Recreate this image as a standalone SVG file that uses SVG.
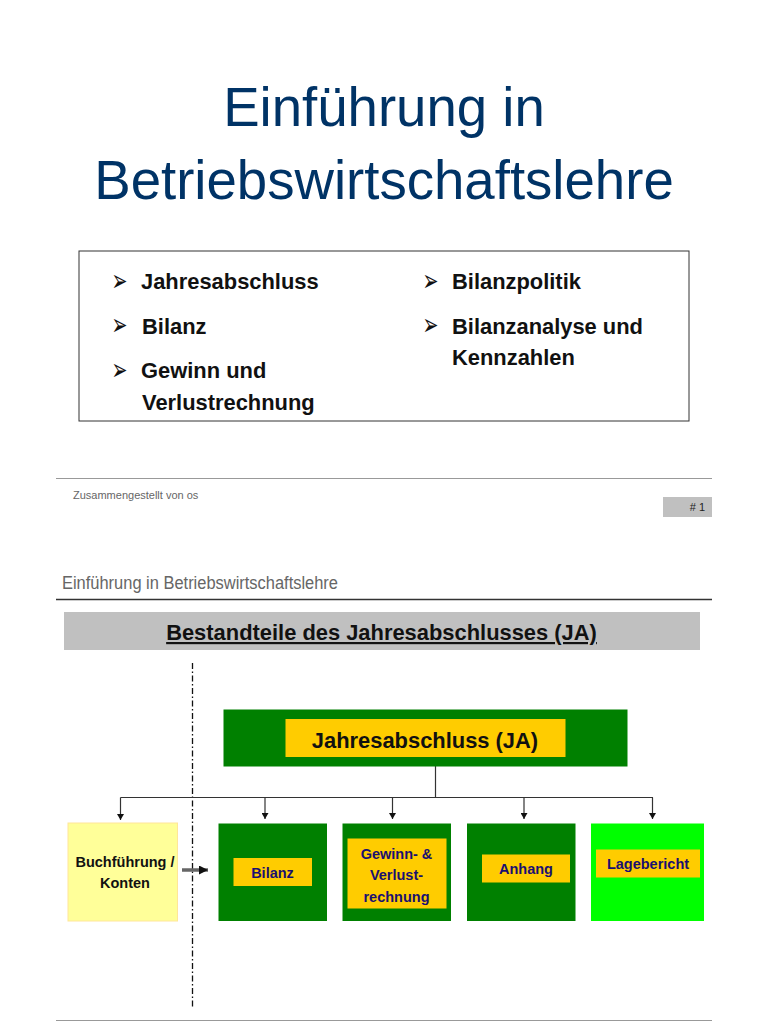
<svg xmlns="http://www.w3.org/2000/svg" width="768" height="1024" viewBox="0 0 768 1024">
<style>
text{font-family:"Liberation Sans",Arial,sans-serif}
.title{font-size:54.600px;fill:#003366;text-anchor:middle}
.li{font-size:21.900px;font-weight:bold;fill:#111}
.b{font-family:"DejaVu Sans",sans-serif;font-size:19px;fill:#111}
.lab{font-size:14.500px;font-weight:bold;fill:#1a1070;text-anchor:middle}
.dk{font-size:14.500px;font-weight:bold;fill:#111;text-anchor:middle}
.g{fill:#008000}
.o{fill:#ffcc00}
.c{fill:none;stroke:#333;stroke-width:1.200}
</style>
<defs>
<marker id="a" markerUnits="userSpaceOnUse" markerWidth="7" markerHeight="7" refX="6" refY="3.500" orient="auto"><path d="M0 0L6 3.500L0 7Z" fill="#111"/></marker>
<marker id="a2" markerUnits="userSpaceOnUse" markerWidth="10" markerHeight="10" refX="9" refY="4.500" orient="auto"><path d="M0 0L9 4.500L0 9Z" fill="#111"/></marker>
</defs>
<rect width="768" height="1024" fill="#fff"/>
<text class="title" x="384" y="126">Einführung in</text>
<text class="title" x="384" y="199">Betriebswirtschaftslehre</text>
<g id="topics">
<rect x="79" y="251" width="610" height="170" fill="#fff" stroke="#333" stroke-width="1"/>
<text class="b" transform="translate(111.500 291) scale(1 1.600)">➢</text><text class="li" x="141" y="288.500">Jahresabschluss</text>
<text class="b" transform="translate(111.500 335) scale(1 1.600)">➢</text><text class="li" x="142" y="333.500">Bilanz</text>
<text class="b" transform="translate(111.500 380) scale(1 1.600)">➢</text><text class="li" x="141" y="377.500">Gewinn und</text>
<text class="li" x="142" y="409.500">Verlustrechnung</text>
<text class="b" transform="translate(422.500 291) scale(1 1.600)">➢</text><text class="li" x="452" y="288.500">Bilanzpolitik</text>
<text class="b" transform="translate(422.500 335) scale(1 1.600)">➢</text><text class="li" x="452" y="333.500">Bilanzanalyse und</text>
<text class="li" x="452" y="365">Kennzahlen</text>
</g>
<path d="M56 478.500H712" stroke="#999" stroke-width="1.200" fill="none"/>
<text x="73" y="499" font-size="11" fill="#666">Zusammengestellt von os</text>
<rect x="663" y="497" width="49" height="20" fill="#c0c0c0"/>
<text x="705" y="511" font-size="11" fill="#222" text-anchor="end"># 1</text>
<text x="62" y="589" font-size="17.500" fill="#666" textLength="276" lengthAdjust="spacingAndGlyphs">Einführung in Betriebswirtschaftslehre</text>
<path d="M56 599.500H712" stroke="#333" stroke-width="1.300" fill="none"/>
<rect x="64" y="612" width="636" height="38" fill="#c0c0c0"/>
<text x="381.500" y="640" font-size="21.900" font-weight="bold" fill="#111" text-anchor="middle" text-decoration="underline">Bestandteile des Jahresabschlusses (JA)</text>
<g id="connectors">
<path d="M192.500 663V1008" fill="none" stroke="#111" stroke-width="1.300" stroke-dasharray="6 2.500 1.500 2.500"/>
<path class="c" d="M435.500 766V797"/>
<path class="c" d="M120.500 797.500H653"/>
<path class="c" d="M120.500 797.500V820" marker-end="url(#a)"/>
<path class="c" d="M265 797.500V819" marker-end="url(#a)"/>
<path class="c" d="M392.500 797.500V819" marker-end="url(#a)"/>
<path class="c" d="M524 797.500V819" marker-end="url(#a)"/>
<path class="c" d="M652.500 797.500V819" marker-end="url(#a)"/>
<path d="M182 870H208" fill="none" stroke="#666" stroke-width="3.500" marker-end="url(#a2)"/>
</g>
<g id="ja"><rect class="g" x="223.500" y="709.500" width="404" height="57"/><rect class="o" x="285.500" y="719" width="280" height="38"/><text x="425" y="747.500" font-size="21.900" font-weight="bold" fill="#111" text-anchor="middle">Jahresabschluss (JA)</text></g>
<g id="buchfuehrung"><rect x="68" y="823" width="109.500" height="98" fill="#ffff99" stroke="#ffe699" stroke-width="1"/><text class="dk" x="125" y="867">Buchführung /</text><text class="dk" x="125" y="888">Konten</text></g>
<g id="bilanz"><rect class="g" x="218.500" y="823.500" width="108.500" height="97.500"/><rect class="o" x="233.500" y="858" width="78.500" height="28"/><text class="lab" x="272.500" y="878">Bilanz</text></g>
<g id="guv"><rect class="g" x="342.500" y="823.500" width="108.500" height="97.500"/><rect class="o" x="347.500" y="838.500" width="99" height="70"/><text class="lab" x="396.500" y="858.500">Gewinn- &amp;</text><text class="lab" x="396.500" y="880">Verlust-</text><text class="lab" x="396.500" y="901.500">rechnung</text></g>
<g id="anhang"><rect class="g" x="467" y="823.500" width="108.500" height="97.500"/><rect class="o" x="482" y="854.500" width="88" height="28"/><text class="lab" x="526" y="874">Anhang</text></g>
<g id="lagebericht"><rect x="591" y="823.500" width="113" height="97.500" fill="#00ff00"/><rect class="o" x="596" y="849.500" width="104" height="28"/><text class="lab" x="648" y="869">Lagebericht</text></g>
<path d="M56 1020.500H712" stroke="#999" stroke-width="1.200" fill="none"/>
</svg>
